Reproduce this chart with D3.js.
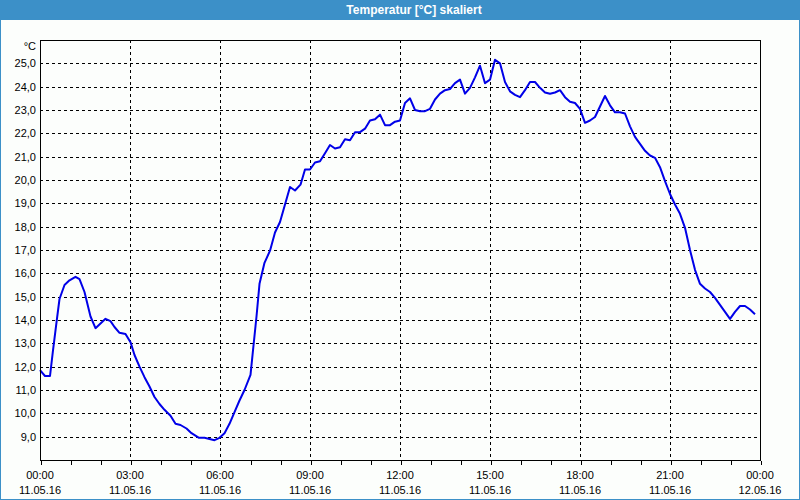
<!DOCTYPE html>
<html>
<head>
<meta charset="utf-8">
<script src="https://cdn.jsdelivr.net/npm/d3@7"></script>
<style>
  html, body { margin: 0; padding: 0; background: #fcfefc; }
  svg { display: block; font-family: "Liberation Sans", Arial, sans-serif; }
  .grid line { stroke: #000; stroke-dasharray: 3,3; shape-rendering: crispEdges; }
  .axis text { font-size: 11px; fill: #000; }
</style>
</head>
<body>
<div class="chart"></div>
<script>
// Temperature readings of 11.05.16
var times = ["00:00","00:10","00:20","00:26","00:33","00:39","00:49","00:59","01:11","01:19",
  "01:29","01:41","01:51","02:01","02:11","02:21","02:29","02:39","02:51","03:01",
  "03:09","03:19","03:29","03:39","03:49","03:59","04:09","04:21","04:31","04:41",
  "04:53","05:03","05:18","05:29","05:39","05:49","05:59","06:09","06:19","06:29",
  "06:39","06:49","07:01","07:06","07:13","07:19","07:29","07:40","07:50","08:00",
  "08:10","08:20","08:30","08:41","08:50","09:00","09:10","09:20","09:30","09:40",
  "09:50","10:00","10:10","10:20","10:30","10:40","10:50","11:00","11:10","11:20",
  "11:30","11:40","11:50","12:00","12:10","12:20","12:30","12:40","12:50","13:00",
  "13:10","13:20","13:30","13:40","13:50","14:00","14:10","14:20","14:30","14:40",
  "14:50","15:00","15:10","15:20","15:30","15:40","15:50","16:00","16:10","16:20",
  "16:30","16:40","16:50","17:00","17:10","17:20","17:30","17:40","17:50","18:00",
  "18:10","18:20","18:30","18:40","18:50","19:00","19:10","19:20","19:30","19:40",
  "19:50","20:00","20:10","20:20","20:30","20:40","20:50","21:00","21:10","21:20",
  "21:30","21:40","21:50","22:00","22:10","22:20","22:30","22:40","22:50","23:00",
  "23:10","23:20","23:30","23:40","23:50"];

var temps = [11.85,11.6,11.6,12.7,13.9,14.9,15.5,15.7,15.85,15.75,
  15.2,14.15,13.65,13.85,14.05,13.95,13.7,13.45,13.4,13.05,
  12.5,12.0,11.55,11.15,10.7,10.4,10.15,9.9,9.55,9.5,
  9.35,9.15,8.95,8.95,8.9,8.85,8.95,9.15,9.55,10.05,
  10.55,11.0,11.65,12.7,14.15,15.55,16.45,16.97,17.75,18.2,
  18.95,19.7,19.55,19.8,20.45,20.45,20.75,20.8,21.15,21.5,
  21.35,21.4,21.75,21.7,22.05,22.05,22.2,22.55,22.6,22.8,
  22.35,22.35,22.5,22.55,23.3,23.5,23.0,22.95,22.95,23.05,
  23.45,23.7,23.85,23.9,24.15,24.3,23.7,23.95,24.4,24.9,
  24.15,24.3,25.15,25.0,24.2,23.8,23.65,23.55,23.85,24.2,
  24.2,23.95,23.75,23.7,23.75,23.85,23.55,23.35,23.3,23.05,
  22.45,22.55,22.7,23.15,23.6,23.2,22.9,22.9,22.85,22.3,
  21.85,21.55,21.25,21.05,20.95,20.55,19.95,19.4,18.95,18.55,
  17.95,17.0,16.15,15.55,15.35,15.2,14.95,14.65,14.35,14.05,
  14.35,14.6,14.6,14.45,14.25];

var yTicks = [9,10,11,12,13,14,15,16,17,18,19,20,21,22,23,24,25];
var dayStart = "2016-05-11 00:00";
var dayEnd = "2016-05-12 00:00";
var title = "Temperatur [°C] skaliert";
var unit = "°C";

var svgWidth = 800;
var svgHeight = 500;

var margin = { top: 40, right: 40, bottom: 40, left: 40 };
var width = svgWidth - margin.left - margin.right;
var height = svgHeight - margin.top - margin.bottom;

var parseFull = d3.timeParse("%Y-%m-%d %H:%M");

var data = times.map(function(t, i) {
  return { date: parseFull("2016-05-11 " + t), temp: temps[i] };
});

var svg = d3.select(".chart")
  .append("svg")
  .attr("width", svgWidth)
  .attr("height", svgHeight);

// frame + title bar
svg.append("rect")
  .attr("x", 0.5).attr("y", 0.5)
  .attr("width", svgWidth - 1).attr("height", svgHeight - 1)
  .attr("fill", "#fcfefc")
  .attr("stroke", "#3c90c8");

svg.append("rect")
  .attr("x", 0).attr("y", 0)
  .attr("width", svgWidth).attr("height", 20)
  .attr("fill", "#3c90c8");

svg.append("text")
  .attr("x", 414)
  .attr("y", 14)
  .attr("text-anchor", "middle")
  .attr("font-size", "12px")
  .attr("font-weight", "bold")
  .attr("fill", "#fff")
  .text(title);

var chartGroup = svg.append("g")
  .attr("transform", `translate(${margin.left}, ${margin.top})`);

// scales
var xTimeScale = d3.scaleTime()
  .domain([parseFull(dayStart), parseFull(dayEnd)])
  .range([0, width]);

var yLinearScale = d3.scaleLinear()
  .domain([8, 26])
  .range([height, 0]);

// grid
chartGroup.append("g")
  .attr("class", "grid")
  .selectAll("line")
  .data(yTicks)
  .enter()
  .append("line")
  .attr("x1", 0)
  .attr("x2", width)
  .attr("y1", d => Math.round(yLinearScale(d)) + 0.5)
  .attr("y2", d => Math.round(yLinearScale(d)) + 0.5);

var majorTicks = xTimeScale.ticks(d3.timeHour.every(3));

chartGroup.append("g")
  .attr("class", "grid")
  .selectAll("line")
  .data(majorTicks.slice(1, -1))
  .enter()
  .append("line")
  .attr("x1", d => Math.round(xTimeScale(d)) + 0.5)
  .attr("x2", d => Math.round(xTimeScale(d)) + 0.5)
  .attr("y1", 0)
  .attr("y2", height);

// temperature line
var line = d3.line()
  .x(d => xTimeScale(d.date))
  .y(d => yLinearScale(d.temp));

chartGroup.append("path")
  .datum(data)
  .attr("d", line)
  .attr("fill", "none")
  .attr("stroke", "#0000e8")
  .attr("stroke-width", 2)
  .attr("stroke-linejoin", "round");

// plot border
chartGroup.append("rect")
  .attr("x", 0.5).attr("y", 0.5)
  .attr("width", width).attr("height", height)
  .attr("fill", "none")
  .attr("stroke", "#000")
  .attr("shape-rendering", "crispEdges");

// x axis: hourly ticks, labels every 3 h
var xAxis = d3.axisBottom(xTimeScale)
  .ticks(d3.timeHour.every(1))
  .tickSize(4)
  .tickFormat("");

var xg = chartGroup.append("g")
  .attr("class", "axis")
  .attr("transform", `translate(0.5, ${height + 0.5})`)
  .call(xAxis);
xg.select(".domain").remove();
xg.selectAll("line").attr("shape-rendering", "crispEdges");

var fmtTime = d3.timeFormat("%H:%M");
var fmtDate = d3.timeFormat("%d.%m.%y");

var xLabels = chartGroup.append("g")
  .attr("class", "axis")
  .selectAll("text")
  .data(majorTicks)
  .enter()
  .append("text")
  .attr("text-anchor", "middle")
  .attr("transform", d => `translate(${xTimeScale(d)}, 0)`);

xLabels.append("tspan")
  .attr("x", 0)
  .attr("y", height + 19)
  .text(d => fmtTime(d));

xLabels.append("tspan")
  .attr("x", 0)
  .attr("y", height + 34)
  .text(d => fmtDate(d));

// y axis labels
var yAxis = d3.axisLeft(yLinearScale)
  .tickValues(yTicks)
  .tickSize(0)
  .tickPadding(4)
  .tickFormat(d => d3.format(".1f")(d).replace(".", ","));

var yg = chartGroup.append("g")
  .attr("class", "axis")
  .call(yAxis);
yg.select(".domain").remove();
yg.selectAll("text").attr("font-family", null).attr("font-size", null);
xg.attr("font-family", null);
yg.attr("font-family", null);

chartGroup.append("text")
  .attr("class", "axis")
  .attr("x", -4)
  .attr("y", 10)
  .attr("text-anchor", "end")
  .attr("font-size", "11px")
  .text(unit);
</script>
</body>
</html>
